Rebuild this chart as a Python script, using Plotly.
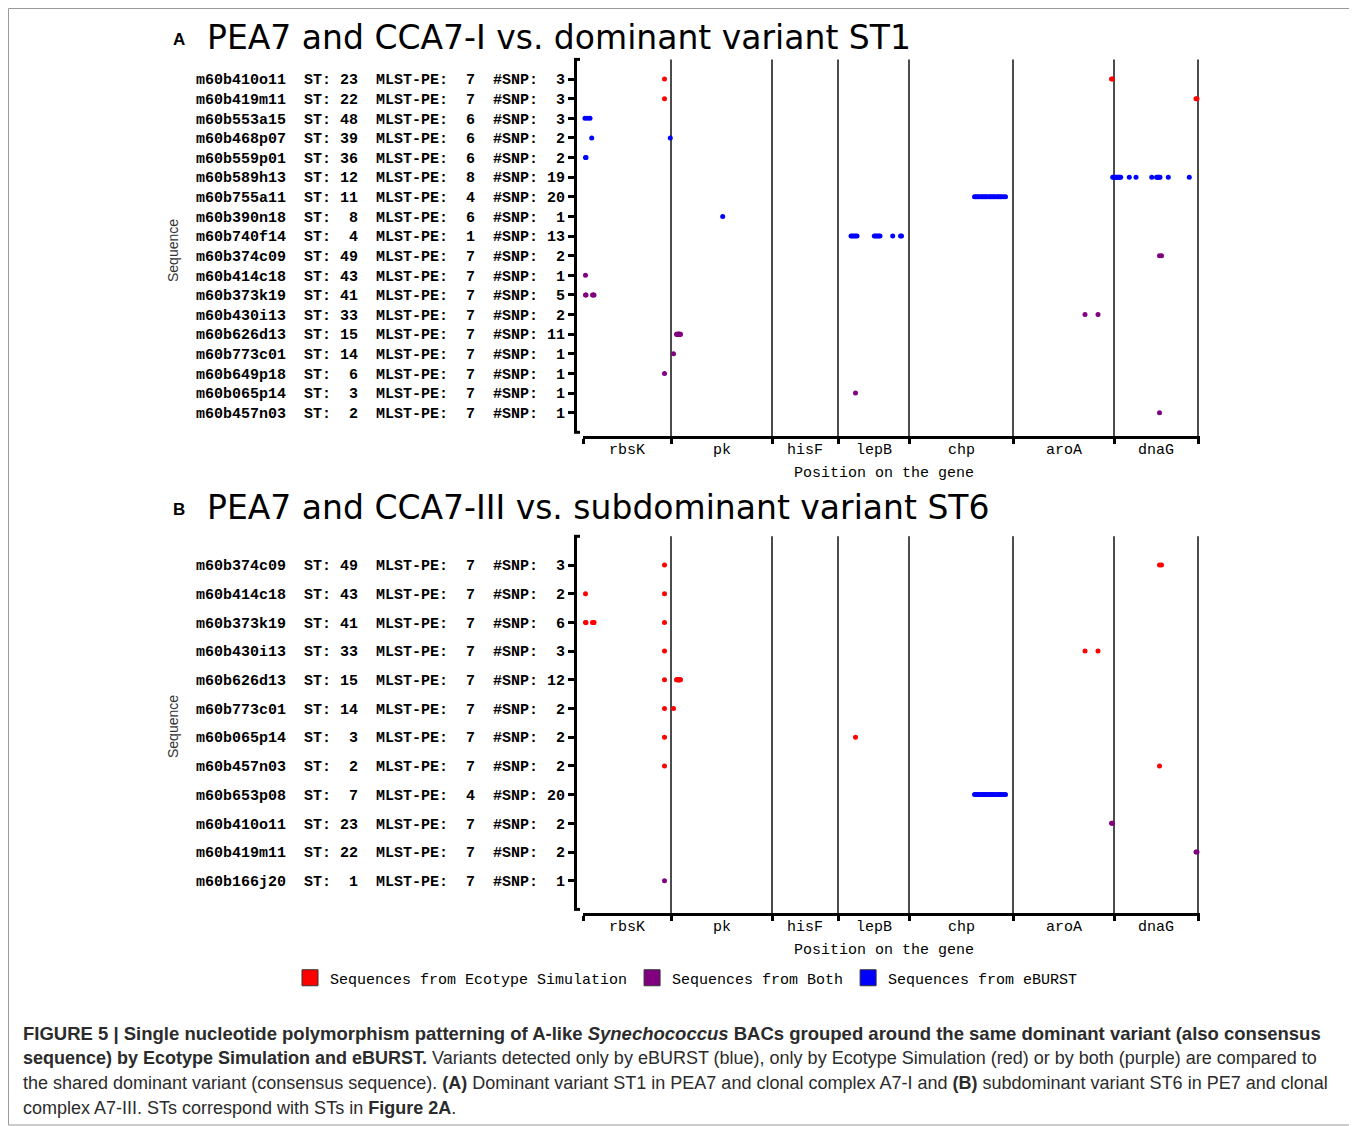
import plotly.graph_objects as go

# page body has an 8px default margin; the figure is sized to fill the rest
OFF = 8
W, H = 1357 - OFF, 1126 - OFF

# ---------------- data ----------------
gene_names = ["rbsK", "pk", "hisF", "lepB", "chp", "aroA", "dnaG"]
gene_bounds = [0, 88, 189, 255, 326, 430, 531, 615]

source_order = ["Ecotype Simulation", "Both", "eBURST"]
source_colors = ["#FF0000", "#800080", "#0000FF"]

# Panel A
a_seq = ["m60b410o11", "m60b419m11", "m60b553a15", "m60b468p07", "m60b559p01",
         "m60b589h13", "m60b755a11", "m60b390n18", "m60b740f14", "m60b374c09",
         "m60b414c18", "m60b373k19", "m60b430i13", "m60b626d13", "m60b773c01",
         "m60b649p18", "m60b065p14", "m60b457n03"]
a_st = [23, 22, 48, 39, 36, 12, 11, 8, 4, 49, 43, 41, 33, 15, 14, 6, 3, 2]
a_mlst = [7, 7, 6, 6, 6, 8, 4, 6, 1, 7, 7, 7, 7, 7, 7, 7, 7, 7]
a_nsnp = [3, 3, 3, 2, 2, 19, 20, 1, 13, 2, 1, 5, 2, 11, 1, 1, 1, 1]
a_source = ["Ecotype Simulation", "Ecotype Simulation", "eBURST", "eBURST", "eBURST",
            "eBURST", "eBURST", "eBURST", "eBURST", "Both",
            "Both", "Both", "Both", "Both", "Both",
            "Both", "Both", "Both"]
a_snp_pos = [
    [81.5, 528.5, 529.5],
    [81.5, 613, 614],
    [2, 4.5, 7],
    [8.7, 87.3],
    [2.5, 3],
    [529.7, 530.7, 531.7, 532.7, 533.7, 534.7, 535.7, 536.7, 537.7,
     546.3, 553, 568.7, 573.5, 574.5, 575.5, 576.3, 577, 585.3, 606.3],
    [391.5, 393, 394.5, 396, 398, 399.5, 401, 402.5, 404, 406,
     407.5, 409, 410.5, 412, 414, 415.5, 417, 418.5, 420.5, 422.5],
    [139.7],
    [268, 269.5, 271, 272.5, 274, 291.3, 292.8, 294.3, 295.8, 297, 309.7, 317.5, 318.5],
    [576.5, 578.5],
    [2.5],
    [2.5, 3, 9.5, 10.3, 11],
    [502, 515],
    [93.5, 94, 94.5, 95, 95.3, 95.6, 96, 96.3, 96.6, 97, 97.5],
    [90.5],
    [81.5],
    [272.5],
    [576.5],
]

# Panel B
b_seq = ["m60b374c09", "m60b414c18", "m60b373k19", "m60b430i13", "m60b626d13",
         "m60b773c01", "m60b065p14", "m60b457n03", "m60b653p08", "m60b410o11",
         "m60b419m11", "m60b166j20"]
b_st = [49, 43, 41, 33, 15, 14, 3, 2, 7, 23, 22, 1]
b_mlst = [7, 7, 7, 7, 7, 7, 7, 7, 4, 7, 7, 7]
b_nsnp = [3, 2, 6, 3, 12, 2, 2, 2, 20, 2, 2, 1]
b_source = ["Ecotype Simulation", "Ecotype Simulation", "Ecotype Simulation", "Ecotype Simulation",
            "Ecotype Simulation", "Ecotype Simulation", "Ecotype Simulation", "Ecotype Simulation",
            "eBURST", "Both", "Both", "Both"]
b_snp_pos = [
    [81.5, 576.5, 578.5],
    [2.5, 81.5],
    [2.5, 3, 9.5, 10.3, 11, 81.5],
    [81.5, 502, 515],
    [81.5, 93.5, 94, 94.5, 95, 95.3, 95.6, 96, 96.3, 96.6, 97, 97.5],
    [81.5, 90.5],
    [81.5, 272.5],
    [81.5, 576.5],
    [391.5, 393, 394.5, 396, 398, 399.5, 401, 402.5, 404, 406,
     407.5, 409, 410.5, 412, 414, 415.5, 417, 418.5, 420.5, 422.5],
    [528.5, 529.5],
    [613, 614],
    [81.5],
]

panel_titles = ["PEA7 and CCA7-I vs. dominant variant ST1",
                "PEA7 and CCA7-III vs. subdominant variant ST6"]
panel_letters = ["A", "B"]

# ---------------- layout geometry (page pixels) ----------------
MONO = "Liberation Mono, Courier New, monospace"
SANS = "DejaVu Sans, Verdana, sans-serif"
ARIAL = "Liberation Sans, Arial, sans-serif"

panels = [
    dict(seq=a_seq, st=a_st, mlst=a_mlst, nsnp=a_nsnp, source=a_source, pos=a_snp_pos,
         top=59.4, bot=432.3, xline=437, title_y=37, seq_y=251, xa="x", ya="y"),
    dict(seq=b_seq, st=b_st, mlst=b_mlst, nsnp=b_nsnp, source=b_source, pos=b_snp_pos,
         top=536.3, bot=909.4, xline=914, title_y=507, seq_y=727, xa="x2", ya="y2"),
]

X_LEFT_PX, X_RIGHT_PX, YAX_PX = 583, 1200, 575


def py(p):
    return 1 - (p - OFF) / H


def px_(p):
    return (p - OFF) / W


def row_label(seq, st, pe, n):
    s = f"{seq}  ST: {st:>2}  MLST-PE: {pe:>2}  #SNP: {n:>2}"
    return s.replace(" ", "\u00a0")


fig = go.Figure()
shapes = []
annotations = []
layout_axes = {}

for k, p in enumerate(panels):
    n = len(p["seq"])
    for src, col in zip(source_order, source_colors):
        xs, ys = [], []
        for i, (s, pos) in enumerate(zip(p["source"], p["pos"])):
            if s == src:
                xs += pos
                ys += [i] * len(pos)
        fig.add_trace(go.Scatter(
            x=xs, y=ys, mode="markers", xaxis=p["xa"], yaxis=p["ya"],
            marker=dict(color=col, size=5, line=dict(width=0)),
            showlegend=False, cliponaxis=False, hoverinfo="x+y"))

    xname = "xaxis" if k == 0 else "xaxis2"
    yname = "yaxis" if k == 0 else "yaxis2"
    layout_axes[xname] = dict(
        domain=[px_(X_LEFT_PX), px_(X_RIGHT_PX)], range=[0, 617], anchor="free",
        position=py(p["xline"]), showline=True, linewidth=3, linecolor="black",
        ticks="outside", tickvals=gene_bounds, ticklen=5, tickwidth=3, tickcolor="black",
        showticklabels=False, showgrid=False, zeroline=False)
    layout_axes[yname] = dict(
        domain=[py(p["bot"]), py(p["top"])], range=[n, -1], anchor="free",
        position=px_(YAX_PX), showline=True, linewidth=3, linecolor="black",
        ticks="outside", ticklen=6, tickwidth=3, tickcolor="black",
        tickvals=list(range(n)),
        ticktext=[row_label(*t) for t in zip(p["seq"], p["st"], p["mlst"], p["nsnp"])],
        tickfont=dict(family=MONO, size=15, color="black", weight="bold"),
        showgrid=False, zeroline=False)

    yd = p["ya"] + " domain"
    ext = (p["bot"] - p["xline"]) / (p["bot"] - p["top"])
    for b in gene_bounds[1:]:
        shapes.append(dict(type="line", xref=p["xa"], yref=yd, x0=b, x1=b, y0=1, y1=ext,
                           line=dict(color="#111", width=1.5), layer="below"))
    for yy in (0, 1):
        shapes.append(dict(type="line", xref="paper", yref=yd, x0=px_(YAX_PX - 1),
                           x1=px_(YAX_PX + 5), y0=yy, y1=yy, line=dict(color="black", width=3)))

    # gene labels
    for g, b0, b1 in zip(gene_names, gene_bounds[:-1], gene_bounds[1:]):
        annotations.append(dict(text=g, x=(b0 + b1) / 2, xref=p["xa"], y=py(p["xline"] + 13),
                                yref="paper", showarrow=False, xanchor="center", yanchor="middle",
                                font=dict(family=MONO, size=15, color="black")))
    annotations.append(dict(text="Position on the gene", x=px_(884), xref="paper",
                            xanchor="center", y=py(p["xline"] + 36), yref="paper",
                            yanchor="middle", showarrow=False,
                            font=dict(family=MONO, size=15, color="black")))
    annotations.append(dict(text="Sequence", x=px_(173), xref="paper", xanchor="center",
                            y=py(p["seq_y"]), yref="paper", yanchor="middle",
                            showarrow=False, textangle=-90,
                            font=dict(family=ARIAL, size=14, color="#333")))
    annotations.append(dict(text="<b>" + panel_letters[k] + "</b>", x=px_(179), xref="paper",
                            xanchor="center", y=py(p["title_y"] + 2), yref="paper",
                            yanchor="middle", showarrow=False,
                            font=dict(family=ARIAL, size=17, color="black")))
    annotations.append(dict(text=panel_titles[k], x=px_(205), xref="paper", xanchor="left",
                            y=py(p["title_y"]), yref="paper", yanchor="middle",
                            showarrow=False,
                            font=dict(family=SANS, size=33, color="black")))

# legend-only traces
for src, col in zip(source_order, source_colors):
    fig.add_trace(go.Scatter(
        x=[None], y=[None], mode="markers", name="Sequences from " + src,
        marker=dict(symbol="square", size=16, color=col, line=dict(color="#333", width=1)),
        showlegend=True))

caption_lines = [
    "<b>FIGURE 5 | Single nucleotide polymorphism patterning of A-like <i>Synechococcus</i> "
    "BACs grouped around the same dominant variant (also consensus</b>",
    "<b>sequence) by Ecotype Simulation and eBURST.</b> Variants detected only by eBURST (blue), "
    "only by Ecotype Simulation (red) or by both (purple) are compared to",
    "the shared dominant variant (consensus sequence). <b>(A)</b> Dominant variant ST1 in PEA7 "
    "and clonal complex A7-I and <b>(B)</b> subdominant variant ST6 in PE7 and clonal",
    "complex A7-III. STs correspond with STs in <b>Figure 2A</b>.",
]
caption_sizes = [18.5, 18, 18, 18]
for j, (line, fs) in enumerate(zip(caption_lines, caption_sizes)):
    annotations.append(dict(text=line, x=px_(21), xref="paper", xanchor="left",
                            y=py(1033 + 25 * j), yref="paper", yanchor="middle",
                            showarrow=False, align="left",
                            font=dict(family=ARIAL, size=fs, color="#2b2b2b")))

shapes.append(dict(type="rect", xref="paper", yref="paper", x0=px_(8.5), x1=px_(1350),
                   y0=py(1125), y1=py(8.5), line=dict(color="#9a9a9a", width=1), layer="below"))

fig.update_layout(
    width=W, height=H, autosize=False,
    margin=dict(l=0, r=0, t=0, b=0),
    paper_bgcolor="white", plot_bgcolor="white",
    showlegend=True,
    legend=dict(orientation="h", x=px_(290), xanchor="left", y=py(978), yanchor="middle",
                font=dict(family=MONO, size=15, color="black"), bgcolor="rgba(0,0,0,0)",
                itemsizing="trace", traceorder="normal"),
    shapes=shapes, annotations=annotations,
    **layout_axes,
)

fig.write_html("out.html")
